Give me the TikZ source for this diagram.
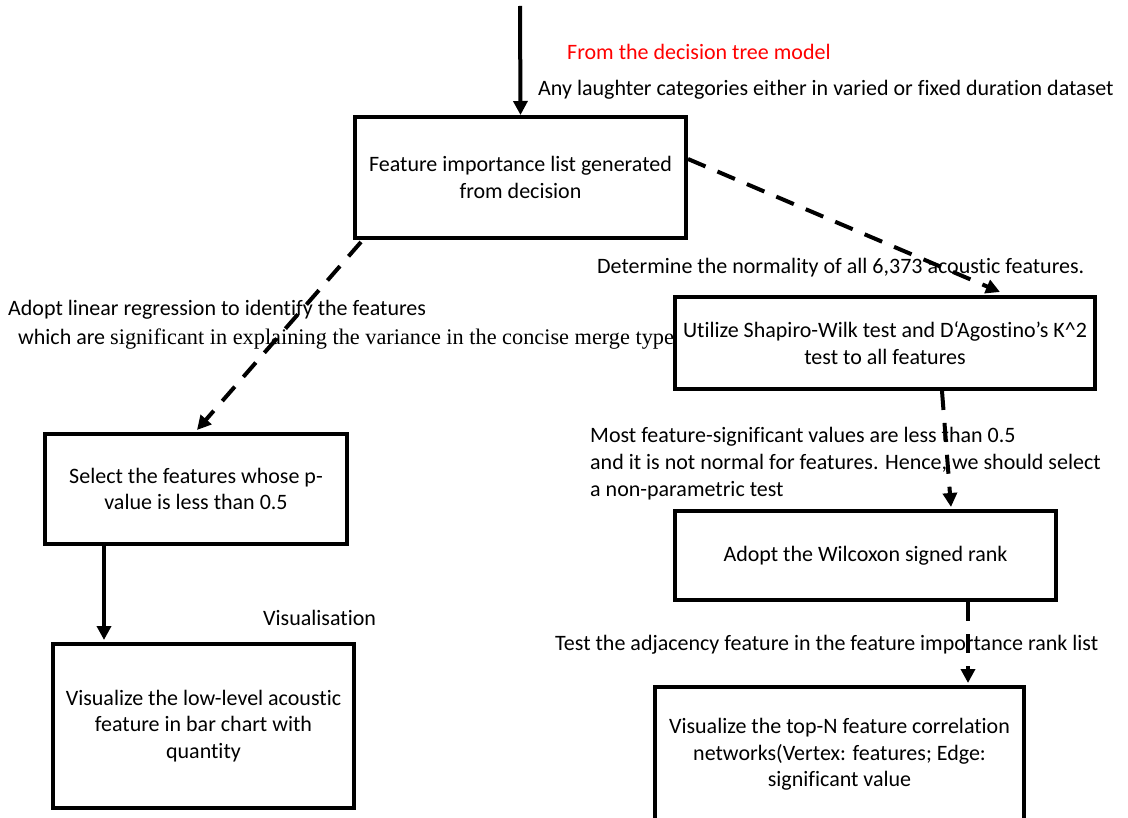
\documentclass[tikz,border=0pt]{standalone}
\usepackage{fontspec}
\setmainfont[Ligatures=NoCommon]{Carlito}
\newfontfamily\timesfont{Liberation Serif}
\usetikzlibrary{arrows.meta}
\begin{document}
\begin{tikzpicture}[x=1pt,y=-1pt,
  box/.style={draw, line width=4pt, inner sep=0pt, align=center,
    font=\fontsize{22}{26.7}\selectfont},
  lbl/.style={inner sep=0pt, anchor=west, align=left,
    font=\fontsize{22}{27}\selectfont},
  conn/.style={line width=4pt, -{Triangle[length=14pt,width=14pt]}},
  dashconn/.style={conn, dash pattern=on 19pt off 13pt},
]
\clip (0,0) rectangle (1128,818);
\fill[white] (0,0) rectangle (1128,818);

% process boxes
\node[box, minimum width=331pt, minimum height=121pt] (b1) at (520.5,177.5)
  {Feature importance list generated\\from decision};
\node[box, minimum width=420pt, minimum height=92pt] (b2) at (885,343)
  {Utilize Shapiro-Wilk test and D‘Agostino’s K\^{}2\\test to all features};
\node[box, minimum width=381pt, minimum height=89pt] (b3) at (865.5,555.5)
  {Adopt the Wilcoxon signed rank};
\node[box, minimum width=369pt, minimum height=135pt] (b4) at (839.5,754.5)
  {Visualize the top-N feature correlation\\networks(Vertex: features; Edge:\\significant value};
\node[box, minimum width=302pt, minimum height=110pt] (b5) at (196,489)
  {Select the features whose p-\\value is less than 0.5};
\node[box, minimum width=301pt, minimum height=164pt] (b6) at (203.5,726)
  {Visualize the low-level acoustic\\feature in bar chart with\\quantity};

% incoming flow
\coordinate (src) at (520,6);
\draw[conn] (src) -- (b1.north);

% connectors
\draw[dashconn] ([yshift=18.5pt]b1.east) -- ([xshift=115pt,yshift=3pt]b2.north);
\draw[dashconn] ([xshift=57pt]b2.south) -- ([xshift=85.5pt,yshift=2pt]b3.north);
\draw[dashconn] ([xshift=102.5pt]b3.south) -- ([xshift=128.5pt,yshift=2pt]b4.north);
\draw[dashconn] ([xshift=8pt,yshift=-2pt]b1.south west) -- ([xshift=1pt,yshift=2pt]b5.north);
\draw[conn] ([xshift=61pt]b5.south west) -- ([xshift=53pt,yshift=2pt]b6.north west);

% labels
\node[lbl, text=red] (l1) at (567,52) {From the decision tree model};
\node[lbl] (l2) at (538,90) {Any laughter categories either in varied or fixed duration dataset};
\node[lbl] (l3) at (597,268) {Determine the normality of all 6,373 acoustic features.};
\node[lbl] (l4) at (8,310) {Adopt linear regression to identify the features};
\node[lbl] (l5) at (13,339) {\ which are {\timesfont\fontsize{22.3}{27}\selectfont significant in explaining the variance in the concise merge type}};
\node[lbl] (l6) at (590,464) {Most feature-significant values are less than 0.5\\and it is not normal for features. Hence, we should select\\a non-parametric test};
\node[lbl] (l7) at (263,618) {Visualisation};
\node[lbl] (l8) at (555,645) {Test the adjacency feature in the feature importance rank list};
\end{tikzpicture}
\end{document}
